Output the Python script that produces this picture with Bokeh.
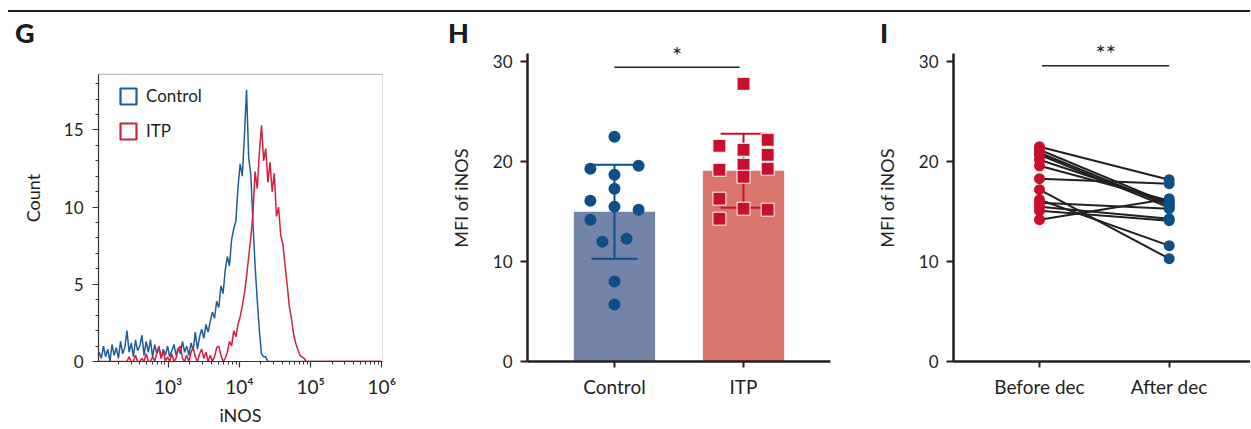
import numpy as np
from bokeh.plotting import figure
from bokeh.models import Range1d, FixedTicker, Legend, LegendItem, Label, Div, BoxAnnotation
from bokeh.layouts import row, column
from bokeh.embed import file_html
from bokeh.resources import INLINE

# ---------------- data ----------------
# G: iNOS flow-cytometry histograms (counts per channel, channels on a log10 iNOS grid)
hist_log_start = 2.00      # log10(iNOS) of first channel
hist_log_step = 0.03       # channel width in decades
control_counts = [
    0.0, 0.6, 0.2, 1.0, 0.3, 0.8, 0.0, 1.1, 0.4, 0.9,
    0.2, 1.3, 0.5, 0.9, 2.0, 0.6, 1.2, 0.3, 1.4, 0.7,
    1.0, 1.7, 0.4, 1.3, 0.6, 1.4, 0.3, 1.1, 0.5, 0.9,
    0.2, 0.8, 0.4, 1.0, 0.3, 0.7, 1.1, 0.4, 0.9, 0.5,
    1.3, 0.6, 1.0, 0.4, 1.2, 0.7, 1.9, 0.8, 1.6, 2.1,
    1.5, 2.4, 1.9, 2.6, 3.2, 2.8, 3.9, 3.5, 4.9, 4.4,
    5.9, 6.8, 6.2, 7.9, 8.6, 9.1, 11.3, 12.8, 12.0, 14.6,
    17.6, 13.2, 12.1, 9.0, 6.2, 4.0, 2.0, 0.5, 0.3, 0.3,
    0.0,
] + [0.0] * 53
itp_counts = [0.0] * 14 + [
    0.0, 0.3, 0.0, 0.0, 0.4, 0.0, 0.0, 0.2, 0.0, 0.5,
    0.0, 0.0, 0.3, 0.0, 0.6, 1.0, 0.2, 0.7, 0.0, 0.3,
    0.0, 0.5, 0.0, 0.2, 0.8, 1.0, 0.2, 0.0, 0.4, 0.0,
    0.6, 0.9, 0.3, 0.0, 0.5, 0.8, 0.2, 0.6, 0.0, 0.4,
    0.0, 0.3, 0.9, 1.0, 0.4, 0.0, 0.2, 0.6, 1.3, 1.0,
    2.0, 1.6, 2.4, 2.9, 3.6, 4.4, 5.5, 6.8, 8.0, 9.6,
    12.3, 11.2, 13.5, 15.3, 13.0, 13.8, 11.6, 12.9, 11.0, 12.2,
    9.4, 10.0, 8.2, 7.6, 6.3, 5.0, 3.6, 2.8, 1.8, 1.2,
    0.8, 0.4, 0.3, 0.2, 0.0,
] + [0.0] * 35
hist_series = ["Control", "ITP"]
hist_decades = [3, 4, 5, 6]
hist_tick_labels = ["10³", "10⁴", "10⁵", "10⁶"]
hist_count_ticks = [0, 5, 10, 15]

# H: MFI of iNOS, Control vs ITP
h_groups = ["Control", "ITP"]
h_means = [15.0, 19.1]
h_sds = [4.7, 3.7]
control_mfi = [22.5, 19.3, 19.6, 18.7, 17.3, 16.1, 15.5, 15.2, 14.2, 12.0, 12.3, 8.0, 5.7]
control_col = [0, -1, 1, 0, 0, -1, 0, 1, -1, -0.5, 0.5, 0, 0]
itp_mfi = [27.8, 21.6, 19.2, 16.3, 14.3, 21.2, 19.7, 18.5, 15.3, 22.2, 20.7, 19.3, 15.2]
itp_col = [0, -1, -1, -1, -1, 0, 0, 0, 0, 1, 1, 1, 1]
h_sig = "*"

# I: paired MFI of iNOS before / after decitabine
i_groups = ["Before dec", "After dec"]
before_dec = [21.5, 21.2, 20.9, 20.7, 20.2, 19.6, 18.3, 17.2, 16.2, 15.9, 15.5, 15.1, 14.2]
after_dec = [18.2, 15.8, 15.6, 15.4, 15.9, 16.1, 17.8, 10.3, 11.6, 15.3, 14.3, 14.1, 16.3]
i_sig = "**"
mfi_ticks = [0, 10, 20, 30]

panel_letters = ["G", "H", "I"]

# ---------------- style ----------------
FONT = "Lato"
INK = "#231f20"
FRAME = "#333333"
HIST_BLUE = "#1f5c99"
HIST_RED = "#d2203f"
DOT_BLUE = "#0f4f88"
DOT_RED = "#c8102e"
BAR_BLUE = "#7384a8"
BAR_RED = "#d9756b"
HEADER_H = 34
FIG_H = 394
TICK_FS = "17px"
LOG_FS = "19px"
CAT_FS = "19px"
TITLE_FS = "18px"
STAR_FS = "24px"


def common(p):
    p.grid.visible = False
    p.outline_line_color = None
    p.background_fill_alpha = 0
    p.border_fill_alpha = 0
    for ax in list(p.xaxis) + list(p.yaxis):
        ax.major_label_text_font = FONT
        ax.major_label_text_font_size = TICK_FS
        ax.major_label_text_color = INK
        ax.axis_label_text_font = FONT
        ax.axis_label_text_font_size = TITLE_FS
        ax.axis_label_text_font_style = "normal"
        ax.axis_label_text_color = INK
        ax.major_tick_in = 0
        ax.minor_tick_in = 0


# ---------------- G ----------------
G_TOP = 18.6
pg = figure(width=440, height=FIG_H, x_range=Range1d(2.02, 6.01), y_range=Range1d(0, 21.18),
            output_backend="svg", toolbar_location=None,
            min_border_left=98, min_border_right=58, min_border_top=0, min_border_bottom=65)
common(pg)
pg.add_layout(BoxAnnotation(left=2.02, right=6.01, bottom=0, top=G_TOP, fill_alpha=0,
                            line_color=FRAME, line_width=1.2, level="underlay"))
hist_x = hist_log_start + hist_log_step * np.arange(len(control_counts))
hist_x_itp = hist_log_start + hist_log_step * np.arange(len(itp_counts))
pg.line(hist_x, control_counts, line_color=HIST_BLUE, line_width=1.5)
pg.line(hist_x_itp, itp_counts, line_color=HIST_RED, line_width=1.5)

minor = [float(np.log10(m * 10.0 ** e)) for e in range(2, 6) for m in range(2, 10)]
pg.xaxis.ticker = FixedTicker(ticks=hist_decades, minor_ticks=minor)
pg.xaxis.major_label_overrides = {d: lab for d, lab in zip(hist_decades, hist_tick_labels)}
pg.xaxis.major_label_text_font_size = LOG_FS
pg.yaxis.ticker = FixedTicker(ticks=hist_count_ticks, minor_ticks=list(range(0, 19)))
pg.yaxis.bounds = (0, G_TOP)
for ax in list(pg.xaxis) + list(pg.yaxis):
    ax.axis_line_color = FRAME
    ax.axis_line_width = 1.2
    ax.major_tick_line_color = FRAME
    ax.minor_tick_line_color = FRAME
    ax.major_tick_out = 6
    ax.minor_tick_out = 3
    ax.major_tick_line_width = 1.2
pg.xaxis.major_label_standoff = 7
pg.yaxis.major_label_standoff = 9
pg.xaxis.axis_label = "iNOS"
pg.yaxis.axis_label = "Count"
pg.xaxis.axis_label_standoff = 3
pg.yaxis.axis_label_standoff = 17

leg_c = pg.rect(x=[hist_decades[0]], y=[0], width=[0], height=[0], fill_alpha=0,
                line_color=HIST_BLUE, line_width=2.2, visible=False)
leg_i = pg.rect(x=[hist_decades[0]], y=[0], width=[0], height=[0], fill_alpha=0,
                line_color=HIST_RED, line_width=2.2, visible=False)
legend = Legend(items=[LegendItem(label=hist_series[0], renderers=[leg_c]),
                       LegendItem(label=hist_series[1], renderers=[leg_i])],
                location=(20, 220), padding=0, spacing=14, margin=0,
                glyph_width=20, glyph_height=20, label_height=20, label_standoff=8,
                label_text_font=FONT, label_text_font_size=TICK_FS, label_text_color=INK,
                border_line_alpha=0, background_fill_alpha=0)
pg.add_layout(legend)

# ---------------- H ----------------
h_pos = [i + 1 for i in range(len(h_groups))]
COL = 0.187
CAP = 0.178
MFI_TOP = 32.74
ph = figure(width=430, height=FIG_H, x_range=Range1d(0.326, 2.674), y_range=Range1d(0, MFI_TOP),
            output_backend="svg", toolbar_location=None,
            min_border_left=87, min_border_right=40, min_border_top=0, min_border_bottom=65)
common(ph)
ph.vbar(x=h_pos, top=h_means, width=0.63, fill_color=[BAR_BLUE, BAR_RED], line_color=None)
lo = [m - s for m, s in zip(h_means, h_sds)]
hi = [m + s for m, s in zip(h_means, h_sds)]
eb_cols = [DOT_BLUE, DOT_RED]
ph.segment(x0=h_pos, y0=lo, x1=h_pos, y1=hi, line_color=eb_cols, line_width=2)
ph.segment(x0=[x - CAP for x in h_pos], y0=hi, x1=[x + CAP for x in h_pos], y1=hi,
           line_color=eb_cols, line_width=2)
ph.segment(x0=[x - CAP for x in h_pos], y0=lo, x1=[x + CAP for x in h_pos], y1=lo,
           line_color=eb_cols, line_width=2)
ph.scatter([h_pos[0] + c * COL for c in control_col], control_mfi, marker="circle", size=12,
           fill_color=DOT_BLUE, line_color=None)
ph.scatter([h_pos[1] + c * COL for c in itp_col], itp_mfi, marker="square", size=13,
           fill_color=DOT_RED, line_color="white", line_width=1)
SIG_H = 29.45
ph.line([h_pos[0], h_pos[1] - 0.03], [SIG_H, SIG_H], line_color=INK, line_width=1.5)
ph.add_layout(Label(x=(h_pos[0] + h_pos[1] - 0.03) / 2, y=SIG_H + 1.3, text=h_sig,
                    text_font=FONT, text_font_size=STAR_FS, text_color=INK,
                    text_align="center", text_baseline="middle"))

# ---------------- I ----------------
i_pos = [i + 1 for i in range(len(i_groups))]
n = len(before_dec)
pi = figure(width=380, height=FIG_H, x_range=Range1d(0.337, 2.627), y_range=Range1d(0, MFI_TOP),
            output_backend="svg", toolbar_location=None,
            min_border_left=83, min_border_right=0, min_border_top=0, min_border_bottom=65)
common(pi)
pi.segment(x0=[i_pos[0]] * n, y0=before_dec, x1=[i_pos[1]] * n, y1=after_dec,
           line_color=INK, line_width=2)
pi.scatter([i_pos[0]] * n, before_dec, marker="circle", size=11, fill_color=DOT_RED, line_color=None)
pi.scatter([i_pos[1]] * n, after_dec, marker="circle", size=11, fill_color=DOT_BLUE, line_color=None)
SIG_I = 29.6
pi.line([i_pos[0] + 0.02, i_pos[1]], [SIG_I, SIG_I], line_color=INK, line_width=1.5)
pi.add_layout(Label(x=(i_pos[0] + 0.02 + i_pos[1]) / 2, y=SIG_I + 1.3, text=i_sig,
                    text_font=FONT, text_font_size=STAR_FS, text_color=INK,
                    text_align="center", text_baseline="middle"))

for p, groups in ((ph, h_groups), (pi, i_groups)):
    pos = [i + 1 for i in range(len(groups))]
    p.xaxis.ticker = FixedTicker(ticks=pos, minor_ticks=[])
    p.xaxis.major_label_overrides = {k: g for k, g in zip(pos, groups)}
    p.xaxis.major_label_text_font_size = CAT_FS
    p.xaxis.major_label_standoff = 7
    p.yaxis.ticker = FixedTicker(ticks=mfi_ticks, minor_ticks=[])
    p.yaxis.bounds = (0, 30.8)
    p.yaxis.major_label_standoff = 8
    p.yaxis.axis_label = "MFI of iNOS"
    p.yaxis.axis_label_standoff = 18
    for ax in list(p.xaxis) + list(p.yaxis):
        ax.axis_line_color = INK
        ax.axis_line_width = 2.5
        ax.major_tick_line_color = INK
        ax.major_tick_line_width = 2
        ax.major_tick_out = 7
        ax.minor_tick_out = 0
    p.xaxis.major_tick_out = 6

# ---------------- header band: top rule + panel letters ----------------
letter_x = [15, 448, 880]
spans = "".join(
    f'<span style="position:absolute;left:{x}px;top:16px;font-family:Lato;font-weight:900;'
    f'font-size:27px;line-height:normal;color:#1a1a1a;white-space:nowrap">{t}</span>'
    for t, x in zip(panel_letters, letter_x))
header_html = (
    f'<div style="position:relative;width:1250px;height:{HEADER_H}px;overflow:visible;">'
    '<div style="position:absolute;left:8px;top:10px;width:1242px;height:2px;background:#1a1a1a"></div>'
    + spans + '</div>')
header = Div(text=header_html, width=1250, height=HEADER_H, margin=0,
             styles={"overflow": "visible", "z-index": "5", "position": "relative"})

layout = column(header, row(pg, ph, pi))
open("out.html", "w").write(file_html(layout, INLINE))
